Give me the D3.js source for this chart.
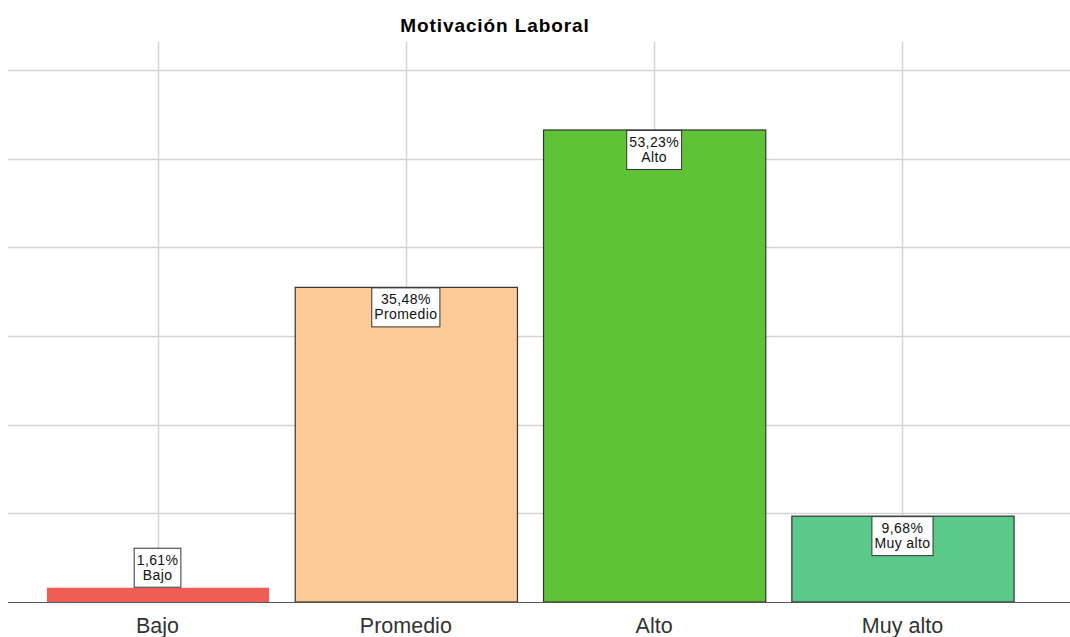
<!DOCTYPE html>
<html><head><meta charset="utf-8">
<script src="https://cdn.jsdelivr.net/npm/d3@7"></script>
<style>body{margin:0;background:#fff;} svg{display:block;font-family:"Liberation Sans",Arial,sans-serif;}</style>
</head><body>
<svg id="c" width="1070" height="637"></svg>
<script>
const categories = ["Bajo","Promedio","Alto","Muy alto"];
const values = [1.61, 35.48, 53.23, 9.68];
const valueLabels = ["1,61%","35,48%","53,23%","9,68%"];
const colors = ["#ef5e55","#fecb98","#5fc337","#5bc98a"];
const yTicks = [10,20,30,40,50,60];

(function(){
const svg = d3.select("#c");
const pLeft = 8, pRight = 1070, pTop = 42, pBottom = 602;
const x = d3.scaleBand().domain(categories).range([34, 1026]).paddingInner(0.105).paddingOuter(0.05);
const y = d3.scaleLinear().domain([0, 63.15]).range([pBottom, pTop]);

svg.append("text").attr("x", 495).attr("y", 32).attr("text-anchor","middle")
  .attr("font-weight","bold").attr("font-size", 19).attr("letter-spacing", 0.9).attr("fill","#000").text("Motivación Laboral");

svg.append("g").selectAll("line").data(yTicks).join("line")
  .attr("x1", pLeft).attr("x2", pRight).attr("y1", d=>Math.round(y(d))+0.5).attr("y2", d=>Math.round(y(d))+0.5)
  .attr("stroke","#d4d4d4").attr("stroke-width",1.5);
svg.append("g").selectAll("line").data(categories).join("line")
  .attr("x1", d=>Math.round(x(d)+x.bandwidth()/2)+0.5).attr("x2", d=>Math.round(x(d)+x.bandwidth()/2)+0.5)
  .attr("y1", pTop).attr("y2", pBottom)
  .attr("stroke","#d4d4d4").attr("stroke-width",1.5);

svg.append("g").selectAll("rect").data(values).join("rect")
  .attr("x", (d,i)=>x(categories[i])+0.5).attr("width", x.bandwidth())
  .attr("y", d=>y(d)).attr("height", d=>pBottom - y(d))
  .attr("fill", (d,i)=>colors[i])
  .attr("stroke", (d,i)=> i===0 ? "none" : "#333").attr("stroke-width", 1.2);

svg.append("line").attr("x1", pLeft).attr("x2", pRight).attr("y1", pBottom+0.5).attr("y2", pBottom+0.5)
  .attr("stroke","#555").attr("stroke-width",1.2);

svg.append("g").selectAll("text").data(categories).join("text")
  .attr("x", d=>x(d)+x.bandwidth()/2).attr("y", 633).attr("text-anchor","middle")
  .attr("font-size", 21.5).attr("fill","#333").text(d=>d);

const boxes = svg.append("g").selectAll("g").data(values).join("g")
  .attr("transform", (d,i)=>{
    const cx = x(categories[i]) + x.bandwidth()/2;
    const h = 40;
    const ty = (i===0) ? y(d) - h : y(d);
    return `translate(${cx},${ty})`;
  });
boxes.each(function(d,i){
  const g = d3.select(this);
  const t1 = g.append("text").attr("y", 17).attr("text-anchor","middle").attr("font-size",14).attr("letter-spacing",0.4).attr("fill","#111").text(valueLabels[i]);
  const t2 = g.append("text").attr("y", 32).attr("text-anchor","middle").attr("font-size",14).attr("letter-spacing",0.4).attr("fill","#111").text(categories[i]);
  const w = Math.max(t1.node().getComputedTextLength(), t2.node().getComputedTextLength()) + 5;
  g.insert("rect","text").attr("x", -w/2).attr("y", 0.5).attr("width", w).attr("height", 39)
    .attr("fill","#fff").attr("stroke","#333").attr("stroke-width",1);
});
})();
</script>
</body></html>
